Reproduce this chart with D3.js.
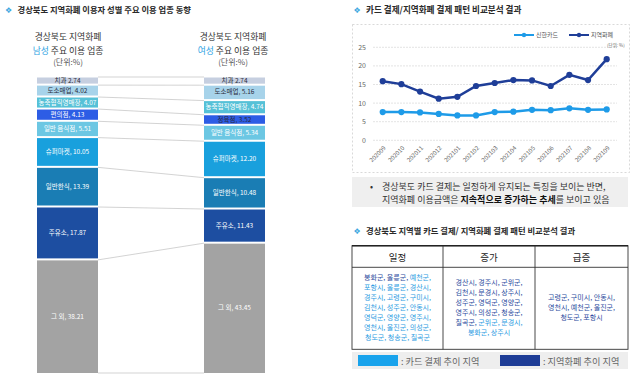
<!DOCTYPE html>
<html>
<head>
<meta charset="utf-8">
<script src="https://cdn.jsdelivr.net/npm/d3@7"></script>
<style>
body { margin: 0; background: #fff; }
svg { font-family: "Noto Sans CJK KR", "Noto Sans", sans-serif; }
</style>
</head>
<body>
<div id="chart"></div>
<script>
// left: male / female main business types (%)
const maleCategories = ['치과', '도소매업', '농축협직영매장', '편의점', '일반 음식점', '슈퍼마켓', '일반한식', '주유소', '그 외']
const maleValues = [2.74, 4.02, 4.07, 4.13, 5.51, 10.05, 13.39, 17.87, 38.21]
const femaleCategories = ['치과', '도소매업', '농축협직영매장', '정육점', '일반 음식점', '슈퍼마켓', '일반한식', '주유소', '그 외']
const femaleValues = [2.74, 5.16, 4.74, 3.52, 5.34, 12.20, 10.48, 11.43, 43.45]

// right: card vs local currency trend
const months = ['202009', '202010', '202011', '202012', '202101', '202102', '202103', '202104', '202105', '202106', '202107', '202108', '202109']
const shinhanCard = [7.6, 7.6, 7.5, 7.1, 6.7, 6.7, 7.6, 7.7, 8.2, 8.1, 8.6, 8.2, 8.3]
const localCurrency = [15.9, 15.1, 13.1, 11.2, 11.7, 14.6, 15.4, 16.2, 16.1, 14.6, 17.6, 16.2, 21.8]
const yTicks = [0, 5, 10, 15, 20, 25]

// table: regions, c = 카드 결제 추이, l = 지역화폐 추이
const steadyRegions = ['봉화군', '울릉군', '예천군', '포항시', '울릉군', '경산시', '경주시', '고령군', '구미시', '김천시', '성주군', '안동시', '영덕군', '영양군', '영주시', '영천시', '울진군', '의성군', '청도군', '청송군', '칠곡군']
const steadyTypes = ['l', 'l', 'c', 'c', 'c', 'c', 'c', 'c', 'c', 'c', 'c', 'c', 'c', 'c', 'c', 'c', 'c', 'c', 'c', 'c', 'c']
const increaseRegions = ['경산시', '경주시', '군위군', '김천시', '문경시', '상주시', '성주군', '영덕군', '영양군', '영주시', '의성군', '청송군', '칠곡군', '군위군', '문경시', '봉화군', '상주시']
const increaseTypes = ['l', 'l', 'l', 'l', 'l', 'l', 'l', 'l', 'l', 'l', 'l', 'l', 'l', 'c', 'c', 'c', 'c']
const surgeRegions = ['고령군', '구미시', '안동시', '영천시', '예천군', '울진군', '청도군', '포항시']
const surgeTypes = ['l', 'l', 'l', 'l', 'l', 'l', 'l', 'l']

const segColors = ['#c6cfe0', '#a7d3ea', '#56c1d7', '#2d5de5', '#6cc7e3', '#19a0dd', '#1a7db4', '#1d4ea1', '#a3a3a3']
const darkLabels = new Set(['치과', '도소매업', '정육점'])
const cardColor = '#1e9be8'
const localColor = '#1f3e98'

const width = 643, height = 378
const svg = d3.select('#chart').append('svg').attr('width', width).attr('height', height)

function sectionTitle(x, y, text, size) {
    svg.append('text').attr('x', x).attr('y', y).attr('text-anchor', 'middle')
        .style('font-family', 'DejaVu Sans').style('font-size', '8px').attr('fill', '#3aa6df').text('❖')
    svg.append('text').attr('x', x + 9).attr('y', y).style('font-size', size + 'px')
        .style('font-weight', 'bold').attr('fill', '#2a2a2a').text(text)
}

// ---------- left panel ----------
sectionTitle(8.5, 13, '경상북도 지역화폐 이용자 성별 주요 이용 업종 동향', 8.3)

function subTitle(cx, who) {
    svg.append('text').attr('x', cx).attr('y', 40).attr('text-anchor', 'middle')
        .style('font-size', '8.8px').attr('fill', '#333').text('경상북도 지역화폐')
    const t = svg.append('text').attr('x', cx).attr('y', 53.5).attr('text-anchor', 'middle')
        .style('font-size', '8.8px').attr('fill', '#333')
    t.append('tspan').attr('fill', '#2ea3e3').text(who)
    t.append('tspan').text(' 주요 이용 업종')
    svg.append('text').attr('x', cx).attr('y', 64.5).attr('text-anchor', 'middle')
        .style('font-size', '8px').attr('fill', '#555').text('(단위:%)')
}
subTitle(68, '남성')
subTitle(233, '여성')

const barTop = 77, barBottom = 373
function stackBounds(vals) {
    return [0, ...d3.cumsum(vals)]
}
const yMale = d3.scaleLinear().domain([0, d3.sum(maleValues)]).range([barTop, barBottom])
const yFemale = d3.scaleLinear().domain([0, d3.sum(femaleValues)]).range([barTop, barBottom])
const maleBounds = stackBounds(maleValues)
const femaleBounds = stackBounds(femaleValues)

// series lines between the two bars
const leftX = 98, rightX = 204
svg.append('g').selectAll('line')
    .data(d3.range(maleBounds.length))
    .enter().append('line')
    .attr('x1', leftX).attr('x2', rightX)
    .attr('y1', i => yMale(maleBounds[i]))
    .attr('y2', i => yFemale(femaleBounds[i]))
    .attr('stroke', '#c8c8c8').attr('stroke-width', 0.8)

function drawStack(cats, vals, bounds, y, x0, w) {
    const n = vals.length
    const g = svg.append('g')
    const seg = g.selectAll('g.seg').data(d3.range(n)).enter().append('g')
    seg.append('rect')
        .attr('x', x0).attr('width', w)
        .attr('y', i => y(bounds[i]) + 0.5)
        .attr('height', i => y(bounds[i + 1]) - y(bounds[i]) - (i === n - 1 ? 0.5 : 2))
        .attr('fill', i => segColors[i])
    seg.append('text')
        .attr('x', x0 + w / 2)
        .attr('y', i => (y(bounds[i]) + y(bounds[i + 1]) - (i === n - 1 ? 0 : 1.5)) / 2)
        .attr('dy', '0.35em')
        .attr('text-anchor', 'middle')
        .style('font-size', '6.5px')
        .attr('fill', i => darkLabels.has(cats[i]) ? '#2b2b3a' : '#fff')
        .text(i => i === 0 ? `${cats[i]} ${vals[i].toFixed(2)}` : `${cats[i]}, ${vals[i].toFixed(2)}`)
}
drawStack(maleCategories, maleValues, maleBounds, yMale, 37, 61)
drawStack(femaleCategories, femaleValues, femaleBounds, yFemale, 204, 61)

// ---------- right panel: line chart ----------
sectionTitle(357, 13.3, '카드 결제/지역화폐 결제 패턴 비교분석 결과', 8.6)

svg.append('rect').attr('x', 352.5).attr('y', 24.5).attr('width', 277).attr('height', 148)
    .attr('fill', 'none').attr('stroke', '#cfcfcf').attr('stroke-dasharray', '2,2').attr('stroke-width', 0.8)

const xLine = d3.scalePoint().domain(months).range([382.7, 606.7])
const yLine = d3.scaleLinear().domain([0, 25]).range([140.3, 47.3])

const grid = svg.append('g')
grid.selectAll('line').data(yTicks).enter().append('line')
    .attr('x1', 373).attr('x2', 617)
    .attr('y1', d => yLine(d)).attr('y2', d => yLine(d))
    .attr('stroke', '#dcdcdc').attr('stroke-width', 0.8).attr('stroke-dasharray', '2,1')
grid.selectAll('text').data(yTicks).enter().append('text')
    .attr('x', 366).attr('y', d => yLine(d)).attr('dy', '0.35em')
    .attr('text-anchor', 'end').style('font-size', '7px').attr('fill', '#666')
    .text(d => d)

svg.append('g').selectAll('text').data(months).enter().append('text')
    .attr('transform', d => `translate(${xLine(d) + 2},${147}) rotate(-45)`)
    .attr('text-anchor', 'end').attr('dy', '0.35em')
    .style('font-size', '6px').attr('fill', '#666')
    .text(d => d)

svg.append('text').attr('x', 607).attr('y', 46.5).style('font-size', '4.5px').attr('fill', '#666').text('(단위: %)')

const line = d3.line().x((d, i) => xLine(months[i])).y(d => yLine(d))
function drawSeries(vals, color) {
    svg.append('path').datum(vals).attr('d', line)
        .attr('fill', 'none').attr('stroke', color).attr('stroke-width', 2.5)
    svg.append('g').selectAll('circle').data(vals).enter().append('circle')
        .attr('cx', (d, i) => xLine(months[i])).attr('cy', d => yLine(d))
        .attr('r', 3.1).attr('fill', color)
}
drawSeries(shinhanCard, cardColor)
drawSeries(localCurrency, localColor)

function legendItem(x, color, label) {
    svg.append('line').attr('x1', x).attr('x2', x + 20).attr('y1', 35).attr('y2', 35)
        .attr('stroke', color).attr('stroke-width', 2)
    svg.append('circle').attr('cx', x + 10).attr('cy', 35).attr('r', 2.2).attr('fill', color)
    svg.append('text').attr('x', x + 22).attr('y', 35).attr('dy', '0.35em')
        .style('font-size', '6px').attr('fill', '#555').text(label)
}
legendItem(514, cardColor, '신한카드')
legendItem(569, localColor, '지역화폐')

// note box
svg.append('rect').attr('x', 352).attr('y', 177).attr('width', 276).attr('height', 30).attr('fill', '#efefef')
svg.append('text').attr('x', 370).attr('y', 190).style('font-size', '9px').attr('fill', '#333').text('•')
svg.append('text').attr('x', 382).attr('y', 190).style('font-size', '9px').attr('fill', '#333')
    .text('경상북도 카드 결제는 일정하게 유지되는 특징을 보이는 반면,')
const note2 = svg.append('text').attr('x', 382).attr('y', 202.5).style('font-size', '9px').attr('fill', '#333')
note2.append('tspan').text('지역화폐 이용금액은 ')
note2.append('tspan').style('font-weight', 'bold').attr('fill', '#111').text('지속적으로 증가하는 추세')
note2.append('tspan').text('를 보이고 있음')

// ---------- right panel: table ----------
sectionTitle(357, 234, '경상북도 지역별 카드 결제/ 지역화폐 결제 패턴 비교분석 결과', 8.3)

const tableLeft = 352, tableRight = 628, tableTop = 245.7, headBottom = 267.3, tableBottom = 349.3
const colEdges = [tableLeft, 443, 535, tableRight]
const headers = ['일정', '증가', '급증']

svg.append('rect').attr('x', tableLeft).attr('y', tableTop)
    .attr('width', tableRight - tableLeft).attr('height', tableBottom - tableTop)
    .attr('fill', 'none').attr('stroke', '#333').attr('stroke-width', 0.9)
svg.append('line').attr('x1', tableLeft).attr('x2', tableRight).attr('y1', tableTop).attr('y2', tableTop)
    .attr('stroke', '#222').attr('stroke-width', 1.4)
svg.append('line').attr('x1', tableLeft).attr('x2', tableRight).attr('y1', headBottom).attr('y2', headBottom)
    .attr('stroke', '#333').attr('stroke-width', 0.9)
svg.append('g').selectAll('line').data([colEdges[1], colEdges[2]]).enter().append('line')
    .attr('x1', d => d).attr('x2', d => d).attr('y1', tableTop).attr('y2', tableBottom)
    .attr('stroke', '#333').attr('stroke-width', 0.9)
svg.append('g').selectAll('text').data(headers).enter().append('text')
    .attr('x', (d, i) => (colEdges[i] + colEdges[i + 1]) / 2).attr('y', 260.5)
    .attr('text-anchor', 'middle').style('font-size', '9.5px').attr('fill', '#222').text(d => d)

function drawRegions(names, types, col, firstBaseline) {
    const cx = (colEdges[col] + colEdges[col + 1]) / 2
    const rows = d3.range(0, names.length, 3)
    rows.forEach((start, r) => {
        const t = svg.append('text').attr('x', cx).attr('y', firstBaseline + r * 10)
            .attr('text-anchor', 'middle').style('font-size', '7px').style('white-space', 'pre')
        names.slice(start, start + 3).forEach((name, j) => {
            const k = start + j
            const sep = k === names.length - 1 ? '' : ','
            t.append('tspan')
                .attr('fill', types[k] === 'c' ? '#2e9ce2' : '#2d4c9e')
                .text((j > 0 ? ' ' : '') + name + sep)
        })
    })
}
drawRegions(steadyRegions, steadyTypes, 0, 280)
drawRegions(increaseRegions, increaseTypes, 1, 285)
drawRegions(surgeRegions, surgeTypes, 2, 300)

// legend row
svg.append('rect').attr('x', 352).attr('y', 352).attr('width', 276).attr('height', 17).attr('fill', '#eeeeee')
svg.append('rect').attr('x', 358).attr('y', 355).attr('width', 40).attr('height', 11).attr('fill', '#19a3ec')
svg.append('text').attr('x', 401).attr('y', 364.5).style('font-size', '9.2px').attr('fill', '#666').text(': 카드 결제 추이 지역')
svg.append('rect').attr('x', 500).attr('y', 355).attr('width', 40).attr('height', 11).attr('fill', '#1e3d96')
svg.append('text').attr('x', 543).attr('y', 364.5).style('font-size', '9.2px').attr('fill', '#666').text(': 지역화폐 추이 지역')
</script>
</body>
</html>
